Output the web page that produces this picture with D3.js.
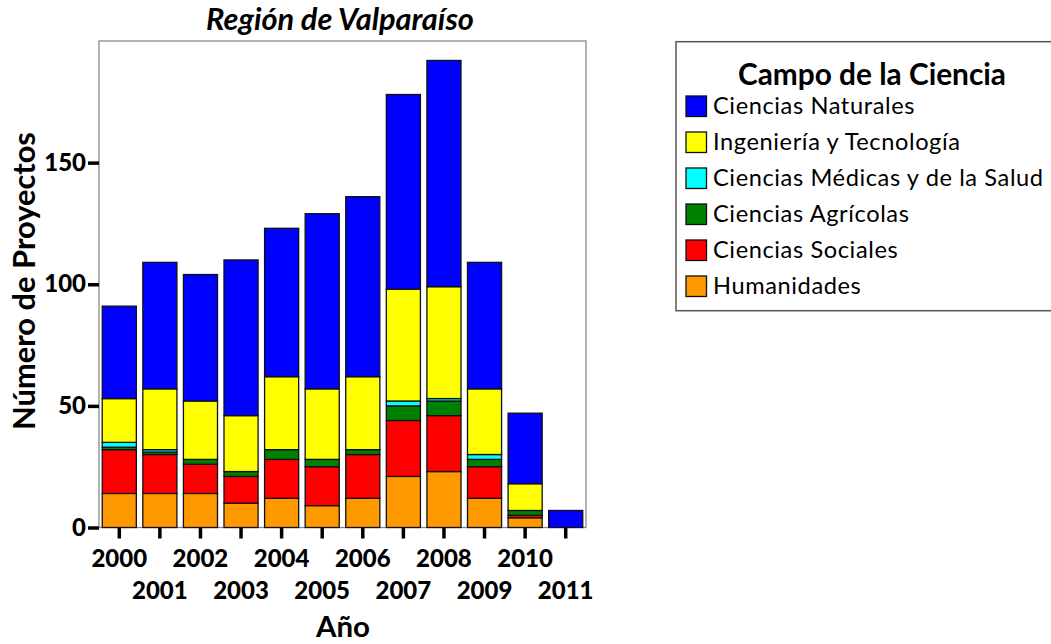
<!DOCTYPE html>
<html>
<head>
<meta charset="utf-8">
<script src="https://cdn.jsdelivr.net/npm/d3@7"></script>
<style>
  html, body { margin: 0; padding: 0; background: #fff; }
  svg { display: block; font-family: Lato, "Open Sans", sans-serif; }
</style>
</head>
<body>
<svg id="chart" width="1051" height="644"></svg>
<script>
// ---- data (stack order bottom -> top) ----
const years = ["2000","2001","2002","2003","2004","2005","2006","2007","2008","2009","2010","2011"];
const humanidades = [14,14,14,10,12, 9,12,21,23,12, 4,0];
const sociales    = [18,16,12,11,16,16,18,23,23,13, 1,0];
const agricolas   = [ 1, 1, 2, 2, 4, 3, 2, 6, 6, 3, 2,0];
const medicas     = [ 2, 1, 0, 0, 0, 0, 0, 2, 1, 2, 0,0];
const ingenieria  = [18,25,24,23,30,29,30,46,46,27,11,0];
const naturales   = [38,52,52,64,61,72,74,80,93,52,29,7];
const yTicks = [0, 50, 100, 150];

const seriesNames = ["Humanidades","Ciencias Sociales","Ciencias Agrícolas","Ciencias Médicas y de la Salud","Ingeniería y Tecnología","Ciencias Naturales"];
const seriesValues = [humanidades, sociales, agricolas, medicas, ingenieria, naturales];
const seriesColors = ["#FF9900","#FF0000","#008000","#00FFFF","#FFFF00","#0000FF"];
const legendOrder = [5,4,3,2,1,0];

const svg = d3.select("#chart");
const L = 99, R = 586, T = 41, B = 527.5;

const x = d3.scaleBand().domain(years).range([L, R]).paddingInner(0.16).paddingOuter(0.08);
const y = d3.scaleLinear().domain([0, 200]).range([B, T]);

const table = years.map((yr, i) => {
  const o = {year: yr};
  seriesNames.forEach((s, k) => o[s] = seriesValues[k][i]);
  return o;
});
const stacked = d3.stack().keys(seriesNames)(table);

function fit(sel, target) {
  const fs = parseFloat(sel.attr("font-size"));
  const len = sel.node().getComputedTextLength();
  sel.attr("font-size", fs * target / len);
}

// frame
svg.append("rect").attr("x", L).attr("y", T).attr("width", R - L).attr("height", B - T)
  .attr("fill", "none").attr("stroke", "#8a8a8a").attr("stroke-width", 1.3);

// bars
stacked.forEach((layer, k) => {
  svg.append("g").selectAll("rect")
    .data(layer.filter(d => d[1] - d[0] > 0))
    .join("rect")
    .attr("x", d => x(d.data.year))
    .attr("width", x.bandwidth())
    .attr("y", d => y(d[1]))
    .attr("height", d => y(d[0]) - y(d[1]))
    .attr("fill", seriesColors[k])
    .attr("stroke", "#111")
    .attr("stroke-width", 1.3);
});

// y axis
const yAxis = svg.append("g").attr("transform", `translate(${L},0)`)
  .call(d3.axisLeft(y).tickValues(yTicks).tickSize(11).tickPadding(2));
yAxis.select(".domain").remove();
yAxis.selectAll(".tick line").attr("stroke", "#000").attr("stroke-width", 3.5);
yAxis.selectAll(".tick text").attr("font-size", 24).attr("font-weight", 900)
  .attr("fill", "#000").style("font-family", "Lato, sans-serif");

// x axis
const xAxis = svg.append("g").attr("transform", `translate(0,${B})`)
  .call(d3.axisBottom(x).tickSize(11));
xAxis.select(".domain").remove();
xAxis.selectAll(".tick line").attr("stroke", "#000").attr("stroke-width", 3.5);
xAxis.selectAll(".tick text")
  .attr("font-size", 24).attr("font-weight", 900).attr("fill", "#000")
  .style("font-family", "Lato, sans-serif")
  .attr("dy", null)
  .attr("y", (d, i) => i % 2 ? 71.5 : 39.2);

// titles
const title = svg.append("text").attr("x", 340).attr("y", 30)
  .attr("text-anchor", "middle").attr("font-size", 24).attr("font-weight", "bold")
  .attr("font-style", "italic").text("Región de Valparaíso");
fit(title, 268);

const xt = svg.append("text").attr("x", 343).attr("y", 637)
  .attr("text-anchor", "middle").attr("font-size", 28).attr("font-weight", "bold").text("Año");
fit(xt, 54);

const yt = svg.append("text").attr("transform", `translate(35,281) rotate(-90)`)
  .attr("text-anchor", "middle").attr("font-size", 28).attr("font-weight", "bold").text("Número de Proyectos");
fit(yt, 298);

// legend
const lg = svg.append("g");
lg.append("rect").attr("x", 676).attr("y", 41.7).attr("width", 400).attr("height", 269)
  .attr("fill", "#fff").attr("stroke", "#555").attr("stroke-width", 1.5);
const lt = lg.append("text").attr("x", 872).attr("y", 85).attr("text-anchor", "middle")
  .attr("font-size", 26).attr("font-weight", "bold").text("Campo de la Ciencia");
fit(lt, 268);

const items = lg.selectAll("g.item").data(legendOrder).join("g").attr("class", "item")
  .attr("transform", (d, i) => `translate(686,${96 + i * 36})`);
items.append("rect").attr("width", 20.5).attr("height", 20.5)
  .attr("fill", d => seriesColors[d]).attr("stroke", "#111").attr("stroke-width", 1.3);
const itexts = items.append("text").attr("x", 27).attr("y", 18)
  .attr("font-size", 22).attr("letter-spacing", 0.6).text(d => seriesNames[d]);
// scale legend item font to match the widest label
const widest = itexts.filter(d => d === 3);
const fs0 = 22, len0 = widest.node().getComputedTextLength();
itexts.attr("font-size", fs0 * 332 / len0);
</script>
</body>
</html>
